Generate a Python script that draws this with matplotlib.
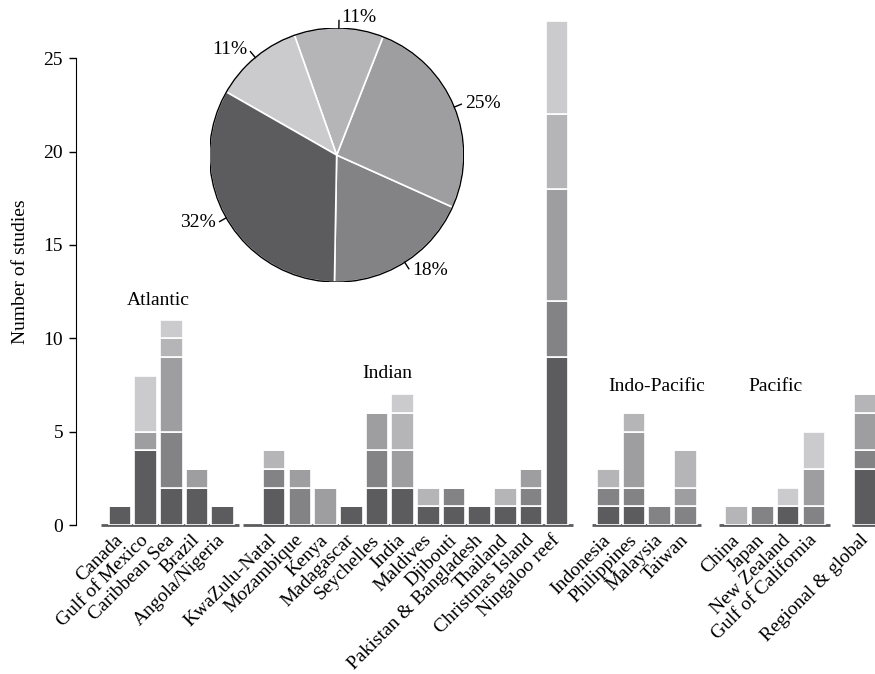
import numpy as np
import matplotlib
matplotlib.use("Agg")
import matplotlib.pyplot as plt

plt.rcParams['font.family'] = ['Liberation Serif', 'DejaVu Serif']

categories = ["Canada", "Gulf of Mexico", "Caribbean Sea", "Brazil", "Angola/Nigeria",
              "KwaZulu-Natal", "Mozambique", "Kenya", "Madagascar", "Seychelles", "India",
              "Maldives", "Djibouti", "Pakistan & Bangladesh", "Thailand", "Christmas Island",
              "Ningaloo reef",
              "Indonesia", "Philippines", "Malaysia", "Taiwan",
              "China", "Japan", "New Zealand", "Gulf of California",
              "Regional & global"]
group_names = ["Atlantic", "Indian", "Indo-Pacific", "Pacific", ""]
group_sizes = [5, 12, 4, 4, 1]

s1 = [1, 4, 2, 2, 1, 2, 0, 0, 1, 2, 2, 1, 1, 1, 1, 1, 9, 1, 1, 0, 0, 0, 0, 1, 0, 3]
s2 = [0, 0, 3, 0, 0, 1, 2, 0, 0, 2, 0, 0, 1, 0, 0, 1, 3, 1, 1, 1, 1, 0, 1, 0, 1, 1]
s3 = [0, 1, 4, 1, 0, 0, 1, 2, 0, 2, 2, 0, 0, 0, 0, 1, 6, 0, 3, 0, 1, 0, 0, 0, 2, 2]
s4 = [0, 0, 1, 0, 0, 1, 0, 0, 0, 0, 2, 1, 0, 0, 1, 0, 4, 1, 1, 0, 2, 1, 0, 0, 0, 1]
s5 = [0, 3, 1, 0, 0, 0, 0, 0, 0, 0, 1, 0, 0, 0, 0, 0, 5, 0, 0, 0, 0, 0, 0, 1, 2, 0]

pie_labels = ["18%", "25%", "11%", "11%", "32%"]
pie_values = [18, 25, 11, 11, 32]

colors = ['#5c5c5e', '#838386', '#9e9ea1', '#b5b5b8', '#cbcbcd']
pie_colors = [colors[1], colors[2], colors[3], colors[4], colors[0]]

FS = 14

# positions: one empty slot between groups
positions = []
group_pos = []
p = 0
for n in group_sizes:
    g = list(range(p, p + n))
    positions += g
    group_pos.append(g)
    p += n + 1
positions = np.array(positions, dtype=float)

fig = plt.figure(figsize=(8.75, 6.74), dpi=100)
ax = fig.add_axes([0.0863, 0.221, 0.9137, 0.7507])

series = [s1, s2, s3, s4, s5]
bottom = np.zeros(len(categories))
for vals, c in zip(series, colors):
    v = np.array(vals, dtype=float)
    ax.bar(positions, v, bottom=bottom, width=0.88, color=c,
           edgecolor='white', linewidth=1.2, zorder=3)
    bottom += v

# group baselines
pads_left = [0.75, 1.2, 0.65, 0.7, 0.5]
for g, pl in zip(group_pos, pads_left):
    ax.plot([g[0] - pl, g[-1] + 0.62], [0, 0], color='#5c5c5e', lw=2.0,
            solid_capstyle='butt', zorder=2, clip_on=False)

# group labels
label_y = [12.0, 8.1, 7.4, 7.4, 0]
label_dx = [-0.5, -1.1, 0.4, 0.0, 0]
for name, g, yy, dx in zip(group_names, group_pos, label_y, label_dx):
    if name:
        ax.text((g[0] + g[-1]) / 2 + dx, yy, name, ha='center', va='center', fontsize=FS)

ax.set_xlim(-1.73, 29.38)
ax.set_ylim(0, 27.1)
ax.set_yticks([0, 5, 10, 15, 20, 25])
ax.tick_params(axis='y', direction='out', length=5, width=1, labelsize=FS, pad=4)
ax.set_xticks(positions)
ax.set_xticklabels(categories, rotation=45, ha='right', va='center',
                   rotation_mode='anchor', fontsize=FS)
ax.tick_params(axis='x', length=0, pad=9)
for s in ['top', 'right', 'bottom']:
    ax.spines[s].set_visible(False)
ax.spines['left'].set_bounds(0, 25)
ax.set_ylabel("Number of studies", fontsize=FS, labelpad=10)

# pie inset
pax = fig.add_axes([0.3848 - 0.1452, 0.770 - 0.1885, 0.2903, 0.3769])
wedges, _ = pax.pie(pie_values, colors=pie_colors, startangle=-91, counterclock=True,
                    radius=1.0, wedgeprops=dict(edgecolor='white', linewidth=1.2))
circ = plt.Circle((0, 0), 1.0, fill=False, edgecolor='black', lw=1.0, zorder=5)
pax.add_patch(circ)
total = sum(pie_values)
ang0 = -91
for v, lab in zip(pie_values, pie_labels):
    mid = np.deg2rad(ang0 + 360 * v / total / 2)
    ang0 += 360 * v / total
    c, s = np.cos(mid), np.sin(mid)
    pax.plot([c * 1.0, c * 1.06], [s * 1.0, s * 1.06], color='black', lw=1.0,
             clip_on=False, zorder=6)
    pax.text(c * 1.07 + (0.02 if c >= -0.05 else -0.02), s * 1.08, lab,
             ha='left' if c > -0.05 else 'right', va='center', fontsize=FS)
pax.set_xlim(-1, 1)
pax.set_ylim(-1, 1)
pax.set_aspect('equal')
pax.axis('off')

fig.savefig("out.png", dpi=100)
